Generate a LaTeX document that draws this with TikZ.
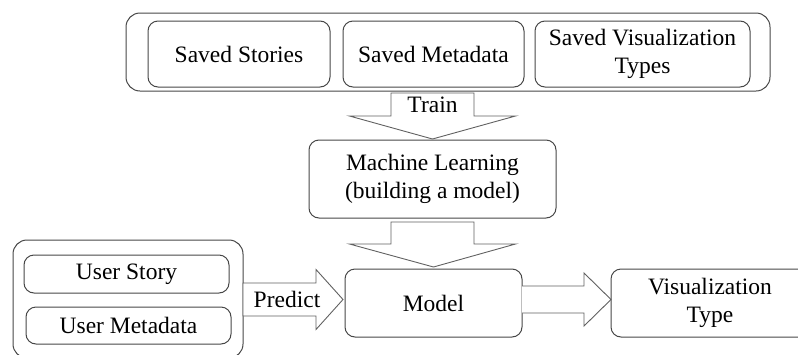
\documentclass[tikz,border=0pt]{standalone}
\usepackage{fontspec}
\setmainfont{Liberation Serif}
\usetikzlibrary{calc}
\begin{document}
\begin{tikzpicture}[x=1pt,y=-1pt,
  box/.style={draw=black!72, line width=1pt, rounded corners=10pt, inner sep=0pt, outer sep=0pt, align=center,
    font=\fontsize{23.5}{28}\selectfont},
  outer/.style={draw=black!72, line width=1pt, rounded corners=14pt, inner sep=0pt, outer sep=0pt},
  blockarrow/.style={draw=black!62, line width=0.9pt, fill=white, line join=miter},
  lbl/.style={font=\fontsize{23.5}{28}\selectfont, align=center, inner sep=0pt}]
\useasboundingbox (0,0) rectangle (798,354);
\clip (0,0) rectangle (798,354);

% top group
\node[outer, minimum width=644pt, minimum height=78pt] (ot) at (448,52) {};
\node[box, minimum width=182pt, minimum height=66pt] (ss) at (239,54) {Saved Stories};
\node[box, minimum width=181pt, minimum height=66pt] (sm) at (433.5,54) {Saved Metadata};
\node[box, minimum width=215pt, minimum height=66pt] (sv) at (642.5,54) {Saved Visualization\\Types};

% machine learning
\node[box, minimum width=247pt, minimum height=78pt] (ml) at (432.5,179) {Machine Learning\\(building a model)};

% model and output
\node[box, minimum width=177pt, minimum height=68pt] (model) at (433.5,303) {Model};
\node[box, minimum width=198pt, minimum height=68pt] (vt) at (710,303) {Visualization\\Type};

% bottom-left group
\node[outer, minimum width=230pt, minimum height=118pt] (obl) at (128,299) {};
\node[box, minimum width=205pt, minimum height=38pt] (us) at (126.5,274) {User Story};
\node[box, minimum width=205pt, minimum height=37pt] (um) at (128.5,325.5) {User Metadata};

% Train arrow
\coordinate (t0) at ($(ot.south -| ml.north)+(0,2)$);
\coordinate (t1) at ($(ml.north)+(0,-1)$);
\draw[blockarrow] ($(t0)+(-41.5,0)$) -- ($(t0)+(-41.5,23)$) -- ($(t0)+(-83,23)$) -- (t1)
  -- ($(t0)+(83,23)$) -- ($(t0)+(41.5,23)$) -- ($(t0)+(41.5,0)$) -- cycle;
\node[lbl] (train) at ($(t0)+(0,12)$) {Train};

% ML -> Model arrow
\coordinate (m0) at ($(ml.south)+(0,4)$);
\coordinate (m1) at ($(model.north)+(0,-2)$);
\draw[blockarrow] ($(m0)+(-41.5,0)$) -- ($(m0)+(-41.5,22)$) -- ($(m0)+(-83,22)$) -- (m1)
  -- ($(m0)+(83,22)$) -- ($(m0)+(41.5,22)$) -- ($(m0)+(41.5,0)$) -- cycle;

% Predict arrow
\coordinate (p0) at ($(obl.east)+(0,0.5)$);
\coordinate (p1) at ($(p0 -| model.west)+(-2,0)$);
\draw[blockarrow] ($(p0)+(0,-16.5)$) -- ($(p0)+(73,-16.5)$) -- ($(p0)+(73,-30)$) -- (p1)
  -- ($(p0)+(73,30)$) -- ($(p0)+(73,16.5)$) -- ($(p0)+(0,16.5)$) -- cycle;
\node[lbl] (predict) at ($(p0)+(44,0)$) {Predict};

% Model -> Visualization Type arrow
\coordinate (v0) at ($(model.east)+(0,-3.5)$);
\coordinate (v1) at (v0 -| vt.west);
\draw[blockarrow] ($(v0)+(0,-13.5)$) -- ($(v0)+(62,-13.5)$) -- ($(v0)+(62,-26.5)$) -- (v1)
  -- ($(v0)+(62,26.5)$) -- ($(v0)+(62,13.5)$) -- ($(v0)+(0,13.5)$);
\end{tikzpicture}
\end{document}
